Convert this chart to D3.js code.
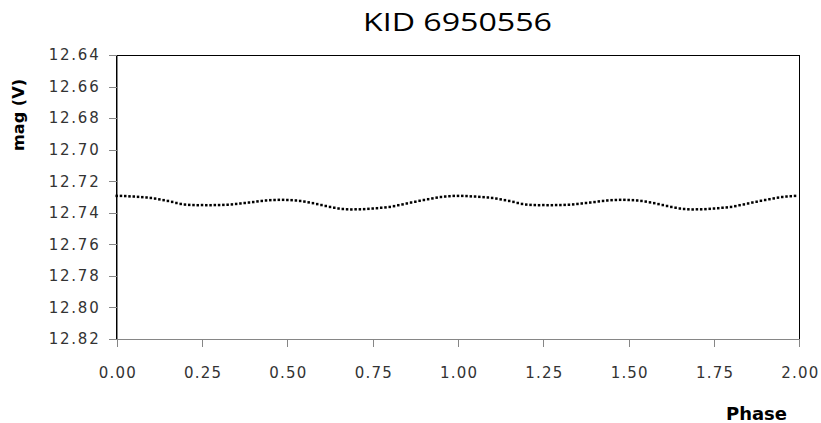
<!DOCTYPE html>
<html>
<head>
<meta charset="utf-8">
<script src="https://cdn.jsdelivr.net/npm/d3@7"></script>
<style>
  html, body { margin: 0; padding: 0; background: #fff; }
  svg { display: block; }
</style>
</head>
<body>
<svg id="chart" width="821" height="423"></svg>
<script>
// ---- data ----
const title = "KID 6950556";
const xLabel = "Phase";
const yLabel = "mag (V)";
const xTicks = [0, 0.25, 0.5, 0.75, 1.0, 1.25, 1.5, 1.75, 2.0];
const yTicks = [12.64, 12.66, 12.68, 12.70, 12.72, 12.74, 12.76, 12.78, 12.80, 12.82];
// one cycle of the folded light curve, phase step 0.0125 (plotted at phase and phase+1)
const phases = [
  0.0000,0.0125,0.0250,0.0375,0.0500,0.0625,0.0750,0.0875,0.1000,0.1125,
  0.1250,0.1375,0.1500,0.1625,0.1750,0.1875,0.2000,0.2125,0.2250,0.2375,
  0.2500,0.2625,0.2750,0.2875,0.3000,0.3125,0.3250,0.3375,0.3500,0.3625,
  0.3750,0.3875,0.4000,0.4125,0.4250,0.4375,0.4500,0.4625,0.4750,0.4875,
  0.5000,0.5125,0.5250,0.5375,0.5500,0.5625,0.5750,0.5875,0.6000,0.6125,
  0.6250,0.6375,0.6500,0.6625,0.6750,0.6875,0.7000,0.7125,0.7250,0.7375,
  0.7500,0.7625,0.7750,0.7875,0.8000,0.8125,0.8250,0.8375,0.8500,0.8625,
  0.8750,0.8875,0.9000,0.9125,0.9250,0.9375,0.9500,0.9625,0.9750,0.9875
];
const mags = [
  12.7293,12.7293,12.7294,12.7296,12.7297,12.7299,12.7301,12.7303,12.7306,12.7310,
  12.7315,12.7320,12.7325,12.7331,12.7338,12.7344,12.7348,12.7350,12.7351,12.7352,
  12.7351,12.7352,12.7352,12.7351,12.7351,12.7350,12.7349,12.7347,12.7344,12.7341,
  12.7338,12.7335,12.7332,12.7328,12.7325,12.7322,12.7320,12.7319,12.7318,12.7318,
  12.7319,12.7320,12.7322,12.7325,12.7329,12.7334,12.7339,12.7345,12.7351,12.7357,
  12.7363,12.7368,12.7373,12.7376,12.7378,12.7379,12.7378,12.7378,12.7377,12.7375,
  12.7373,12.7371,12.7368,12.7366,12.7363,12.7358,12.7352,12.7347,12.7341,12.7335,
  12.7330,12.7324,12.7319,12.7314,12.7309,12.7304,12.7300,12.7297,12.7295,12.7293
];
const cycles = [0, 1];

// ---- layout ----
const svg = d3.select("#chart");
const L = 116.7, R = 799.3, T = 55, B = 339;
const x = d3.scaleLinear().domain([0, 2]).range([L, R]);
const y = d3.scaleLinear().domain([12.64, 12.82]).range([T, B]);
const font = "'DejaVu Sans', Verdana, sans-serif";

// plot area border (black)
svg.append("rect")
  .attr("x", L).attr("y", T).attr("width", R - L).attr("height", B - T)
  .attr("fill", "none").attr("stroke", "#000").attr("stroke-width", 1)
  .attr("shape-rendering", "crispEdges");

// y axis
const yAxis = d3.axisLeft(y).tickValues(yTicks).tickFormat(d3.format(".2f"))
  .tickSize(8).tickSizeOuter(0).tickPadding(10);
const gy = svg.append("g").attr("transform", `translate(${L},0)`).call(yAxis);
gy.select(".domain").attr("stroke", "#868686").attr("shape-rendering", "crispEdges");
gy.selectAll(".tick line").attr("stroke", "#868686").attr("shape-rendering", "crispEdges");
gy.selectAll(".tick text").attr("font-family", font).attr("font-size", 15)
  .attr("fill", "#333").attr("textLength", 50).attr("lengthAdjust", "spacing");

// x axis
const xAxis = d3.axisBottom(x).tickValues(xTicks).tickFormat(d3.format(".2f"))
  .tickSize(8).tickSizeOuter(0).tickPadding(20);
const gx = svg.append("g").attr("transform", `translate(0,${B})`).call(xAxis);
gx.select(".domain").attr("stroke", "#868686").attr("shape-rendering", "crispEdges")
  .attr("d", `M${L - 8},0H${R}`);
gx.selectAll(".tick line").attr("stroke", "#868686").attr("shape-rendering", "crispEdges");
gx.selectAll(".tick text").attr("font-family", font).attr("font-size", 15)
  .attr("fill", "#333").attr("textLength", 37).attr("lengthAdjust", "spacing");
// right border should stay black over the last x tick
svg.append("line").attr("x1", R).attr("x2", R).attr("y1", T).attr("y2", B)
  .attr("stroke", "#000").attr("shape-rendering", "crispEdges");

// data points
const pts = [];
cycles.forEach(c => phases.forEach((p, i) => pts.push({ph: p + c, m: mags[i]})));
svg.append("g").selectAll("rect").data(pts).join("rect")
  .attr("x", d => x(d.ph) - 1.25).attr("y", d => y(d.m) - 1.25)
  .attr("width", 2.5).attr("height", 2.5).attr("fill", "#000");

// title
svg.append("text").attr("x", 457.5).attr("y", 31)
  .attr("text-anchor", "middle").attr("font-family", "'Open Sans', 'DejaVu Sans', sans-serif")
  .attr("font-size", 25).attr("fill", "#000")
  .attr("textLength", 189).attr("lengthAdjust", "spacingAndGlyphs")
  .text(title);

// y label
svg.append("text").attr("transform", "translate(24,115) rotate(-90)")
  .attr("text-anchor", "middle").attr("font-family", font).attr("font-weight", "bold")
  .attr("font-size", 15).attr("fill", "#000")
  .attr("textLength", 72).attr("lengthAdjust", "spacingAndGlyphs")
  .text(yLabel);

// x label
svg.append("text").attr("x", 756.5).attr("y", 420)
  .attr("text-anchor", "middle").attr("font-family", font).attr("font-weight", "bold")
  .attr("font-size", 17).attr("fill", "#000")
  .attr("textLength", 61).attr("lengthAdjust", "spacingAndGlyphs")
  .text(xLabel);
</script>
</body>
</html>
